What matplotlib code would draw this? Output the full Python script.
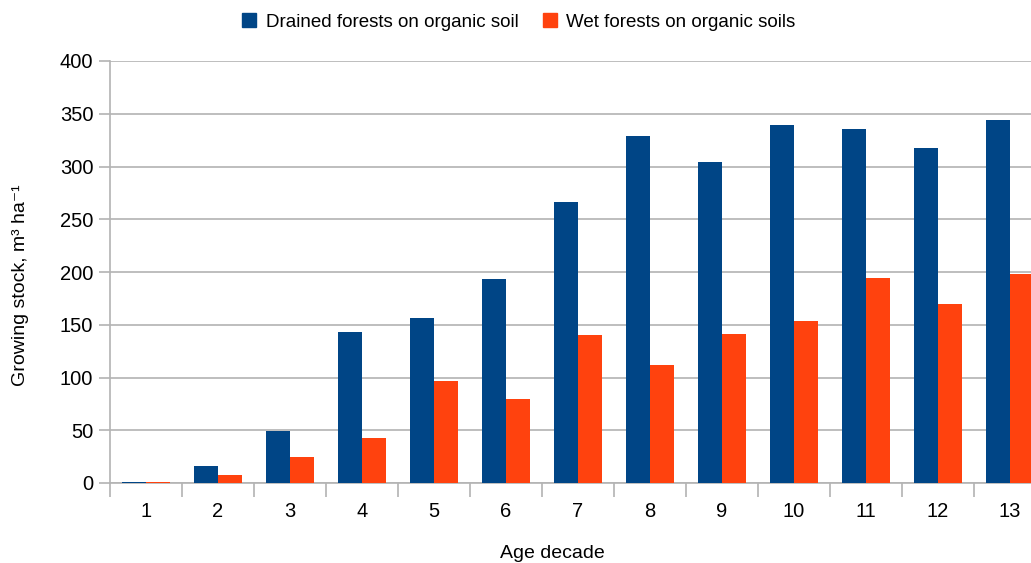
import numpy as np
import matplotlib.pyplot as plt
from matplotlib.patches import Patch

plt.rcParams['font.family'] = ['Liberation Sans', 'DejaVu Sans']

decades = ['1', '2', '3', '4', '5', '6', '7', '8', '9', '10', '11', '12', '13']
drained = [1, 16, 49, 143, 156, 193, 266, 329, 304, 339, 336, 318, 344]
wet = [1, 7.5, 24.5, 42.5, 97, 80, 140, 112, 141, 154, 194, 170, 198]

blue = '#004586'
orange = '#ff420e'
grid_c = '#b3b3b3'

fig = plt.figure(figsize=(10.31, 5.63), dpi=100)
# axes runs a bit past the right edge, as in the original (cut off)
ax = fig.add_axes([110 / 1031, 1 - 483 / 563, 936 / 1031, 422 / 563])

x = np.arange(len(decades))
w = 1 / 3
ax.bar(x - w / 2, drained, width=w, color=blue, zorder=3)
ax.bar(x + w / 2, wet, width=w, color=orange, zorder=3)

ax.set_xlim(-0.5, len(decades) - 0.5)
ax.set_ylim(0, 400)
ax.set_yticks(range(0, 401, 50))
ax.yaxis.grid(True, color=grid_c, linewidth=1.2, zorder=0)

ax.set_xticks(x)
ax.set_xticklabels(decades)
ax.set_xticks(np.arange(-0.5, len(decades), 1), minor=True)
ax.tick_params(axis='x', which='major', length=0, pad=14, labelsize=14.5)
ax.tick_params(axis='x', which='minor', length=10, width=1.2, color=grid_c)
ax.tick_params(axis='y', length=8, width=1.2, color=grid_c, labelsize=14.5, pad=4)

for s in ['top', 'right']:
    ax.spines[s].set_visible(False)
ax.spines['left'].set_color(grid_c)
ax.spines['left'].set_linewidth(1.2)
ax.spines['bottom'].set_color(grid_c)
ax.spines['bottom'].set_linewidth(1.2)

fig.text(21 / 1031, 1 - 285 / 563, 'Growing stock, m³ ha⁻¹', fontsize=14,
         rotation=90, ha='center', va='center')
fig.text(552 / 1031, 1 - 553 / 563, 'Age decade', fontsize=14, ha='center', va='center')

handles = [Patch(color=blue), Patch(color=orange)]
fig.legend(handles, ['Drained forests on organic soil', 'Wet forests on organic soils'],
           loc='upper center', bbox_to_anchor=(519 / 1031, 1.0), ncol=2, frameon=False,
           fontsize=13.5, handlelength=0.75, handleheight=0.75, handletextpad=0.5,
           columnspacing=1.3, borderaxespad=0.3)

fig.savefig('out.png', dpi=100)
